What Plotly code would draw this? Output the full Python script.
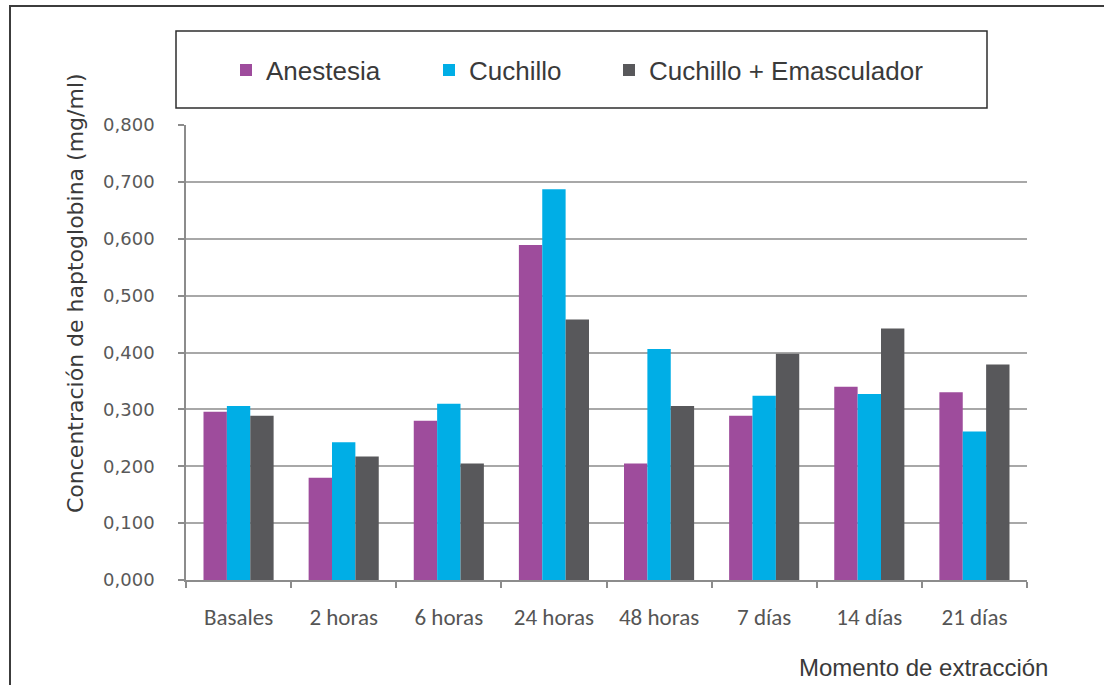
import plotly.graph_objects as go

# Haptoglobin concentration (mg/ml) per sampling time and castration method
categorias = ["Basales", "2 horas", "6 horas", "24 horas", "48 horas", "7 días", "14 días", "21 días"]
anestesia = [0.296, 0.180, 0.280, 0.589, 0.205, 0.289, 0.340, 0.330]
cuchillo = [0.306, 0.242, 0.310, 0.687, 0.406, 0.324, 0.327, 0.261]
cuchillo_emasculador = [0.289, 0.217, 0.205, 0.458, 0.306, 0.398, 0.442, 0.379]

series_nombres = ["Anestesia", "Cuchillo", "Cuchillo + Emasculador"]
series_colores = ["#9E4C9C", "#00AEE6", "#58585B"]

y_ticks = [0.0, 0.1, 0.2, 0.3, 0.4, 0.5, 0.6, 0.7, 0.8]
y_tick_labels = ["0,000", "0,100", "0,200", "0,300", "0,400", "0,500", "0,600", "0,700", "0,800"]

W, H = 1104, 685
L, R, T, B = 186, 77, 125, 105
PW, PH = W - L - R, H - T - B


def px_x(x):
    return (x - L) / PW


def px_y(y):
    return (H - B - y) / PH


fig = go.Figure()
legend_widths = [158, 135, 320]
for nombre, valores, color, lw in zip(series_nombres,
                                      [anestesia, cuchillo, cuchillo_emasculador],
                                      series_colores, legend_widths):
    fig.add_trace(go.Bar(
        x=categorias, y=valores, name=nombre,
        marker=dict(color=color, line=dict(width=0)),
        legendwidth=lw,
    ))

grey = "#8C8C8C"
fig.update_layout(
    width=W, height=H, autosize=False,
    margin=dict(l=L, r=R, t=T, b=B, pad=0),
    paper_bgcolor="white", plot_bgcolor="white",
    barmode="group", bargap=0.333, bargroupgap=0.0,
    showlegend=True,
    legend=dict(
        orientation="h",
        x=px_x(226), xanchor="left",
        y=px_y(70), yanchor="middle",
        bgcolor="rgba(0,0,0,0)", borderwidth=0,
        font=dict(family="Liberation Sans, Arial, sans-serif", size=26, color="#3A3A3A"),
        itemclick=False, itemdoubleclick=False,
    ),
    xaxis=dict(
        type="category",
        showline=True, linecolor=grey, linewidth=1.5,
        ticks="outside", ticklen=6, tickcolor=grey, tickwidth=1.5,
        tickson="boundaries",
        showgrid=False, zeroline=False,
        tickfont=dict(family="Carlito, Lato, sans-serif", size=23, color="#555555"),
        ticklabelstandoff=16,
    ),
    yaxis=dict(
        range=[0, 0.8],
        tickvals=y_ticks, ticktext=y_tick_labels,
        showline=True, linecolor=grey, linewidth=1.5,
        ticks="outside", ticklen=6, tickcolor=grey, tickwidth=1.5,
        showgrid=True, gridcolor="#A8A8A8", gridwidth=1.5,
        zeroline=False,
        tickfont=dict(family="DejaVu Sans, Verdana, sans-serif", size=18, color="#595959"),
        ticklabelstandoff=20,
    ),
    shapes=[
        # outer frame (top and left edges visible)
        dict(type="rect", xref="paper", yref="paper",
             x0=px_x(10), x1=px_x(1130), y0=px_y(720), y1=px_y(6),
             line=dict(color="#3C3C3C", width=2), fillcolor="rgba(0,0,0,0)", layer="below"),
        # legend frame
        dict(type="rect", xref="paper", yref="paper",
             x0=px_x(176), x1=px_x(987), y0=px_y(108), y1=px_y(31),
             line=dict(color="#2E2E2E", width=1.5), fillcolor="rgba(0,0,0,0)"),
    ],
    annotations=[
        dict(text="Concentración de haptoglobina (mg/ml)", textangle=-90,
             xref="paper", yref="paper", x=px_x(75), y=px_y(293),
             xanchor="center", yanchor="middle", showarrow=False,
             font=dict(family="DejaVu Sans, Verdana, sans-serif", size=22, color="#3A3A3A")),
        dict(text="Momento de extracción",
             xref="paper", yref="paper", x=px_x(1050), y=px_y(667),
             xanchor="right", yanchor="middle", showarrow=False,
             font=dict(family="Liberation Sans, Arial, sans-serif", size=24, color="#3A3A3A")),
    ],
)

fig.write_html("out.html")
